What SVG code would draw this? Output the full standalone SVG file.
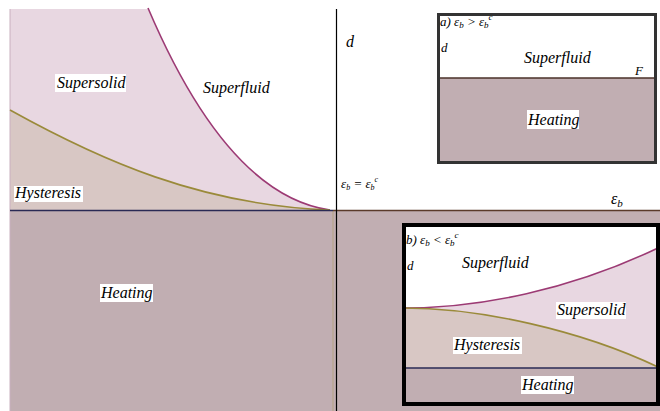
<svg xmlns="http://www.w3.org/2000/svg" width="660" height="411" viewBox="0 0 660 411">
<style>
.lbl{font-size:16px}
.sm{font-size:13px}
.bg{fill:#fff}
.ss{fill:#e8d7e1}
.hy{fill:#d8c7c4}
.ht{fill:#c1aeb2}
.mag{fill:none;stroke:#9c3a74;stroke-width:1.6}
.oli{fill:none;stroke:#9a8a3a;stroke-width:1.6}
.nav{stroke:#2a2a55;stroke-width:1.5}
</style>
<rect width="660" height="411" fill="#fff"/>
<g id="main">
  <path class="ss" d="M10,9 L148,9 C200,130 260,200 330,210 L10,210 Z"/>
  <path class="hy" d="M10,110 C100,160 200,205 330,210 L10,210 Z"/>
  <rect class="ht" x="10" y="210.5" width="650" height="200.5"/>
  <line x1="10" y1="9" x2="10" y2="411" stroke="#c9b0bf" stroke-width="1"/>
  <line x1="333" y1="211" x2="333" y2="411" stroke="#b5a383" stroke-width="1"/>
</g>
<g id="connectors">
  <path class="mag" d="M148,8 C200,130 260,200 330,210"/>
  <path class="oli" d="M10,110 C100,160 200,205 330,210"/>
  <line class="nav" x1="10" y1="210.5" x2="333" y2="210.5"/>
  <line x1="333" y1="210.5" x2="660" y2="210.5" stroke="#5a3a2a" stroke-width="1.5"/>
  <line x1="336.5" y1="9" x2="336.5" y2="411" stroke="#000" stroke-width="1.2"/>
</g>
<g id="main-labels" font-family="Liberation Serif, Times New Roman, serif" font-style="italic">
  <rect class="bg" x="55" y="74" width="71" height="18"/>
  <text class="lbl" x="57" y="88">Supersolid</text>
  <text class="lbl" x="203" y="93">Superfluid</text>
  <rect class="bg" x="14" y="186" width="69" height="16"/>
  <text class="lbl" x="15" y="198">Hysteresis</text>
  <rect class="bg" x="100" y="284" width="53" height="18"/>
  <text class="lbl" x="101" y="298">Heating</text>
  <text class="lbl" x="346" y="47">d</text>
  <text class="sm" x="341" y="188">ε<tspan font-size="8" dy="2">b</tspan><tspan dy="-2"> = </tspan>ε<tspan font-size="8" dy="2">b</tspan><tspan font-size="8" dy="-8">c</tspan></text>
  <text class="lbl" x="611" y="204">ε<tspan font-size="11" dy="3">b</tspan></text>
</g>
<g id="inset-a" font-family="Liberation Serif, Times New Roman, serif" font-style="italic">
  <rect x="438.5" y="14.5" width="217" height="63.5" fill="#fff"/>
  <rect class="ht" x="438.5" y="78" width="217" height="84.5"/>
  <line x1="438.5" y1="78" x2="655.5" y2="78" stroke="#4a3028" stroke-width="1.5"/>
  <rect x="438.5" y="14.5" width="217" height="148" fill="none" stroke="#333" stroke-width="3"/>
  <text class="sm" x="440" y="26">a) ε<tspan font-size="9" dy="2">b</tspan><tspan dy="-2"> &gt; </tspan>ε<tspan font-size="9" dy="2">b</tspan><tspan font-size="9" dy="-8">c</tspan></text>
  <text class="sm" x="441" y="52">d</text>
  <text class="lbl" x="524" y="63">Superfluid</text>
  <text class="sm" x="635" y="75">F</text>
  <rect class="bg" x="527" y="110" width="52" height="19"/>
  <text class="lbl" x="528" y="125">Heating</text>
</g>
<g id="inset-b" font-family="Liberation Serif, Times New Roman, serif" font-style="italic">
  <rect x="404" y="225" width="254" height="179" fill="#fff"/>
  <path class="ss" d="M404,308 C480,308 570,290 658,248 L658,367 C580,330 480,308 404,308 Z"/>
  <path class="hy" d="M404,308 C480,308 580,330 658,367 L658,368 L404,368 Z"/>
  <rect class="ht" x="404" y="368" width="254" height="36"/>
  <path class="mag" d="M404,308 C480,308 570,290 658,248"/>
  <path class="oli" d="M404,308 C480,308 580,330 658,367"/>
  <line class="nav" x1="404" y1="368" x2="658" y2="368"/>
  <rect x="404" y="225" width="254" height="179" fill="none" stroke="#000" stroke-width="4"/>
  <text class="sm" x="406" y="244">b) ε<tspan font-size="9" dy="2">b</tspan><tspan dy="-2"> &lt; </tspan>ε<tspan font-size="9" dy="2">b</tspan><tspan font-size="9" dy="-8">c</tspan></text>
  <text class="sm" x="407" y="270">d</text>
  <text class="lbl" x="462" y="268">Superfluid</text>
  <rect class="bg" x="556" y="302" width="70" height="17"/>
  <text class="lbl" x="557" y="315">Supersolid</text>
  <rect class="bg" x="453" y="337" width="69" height="17"/>
  <text class="lbl" x="454" y="350">Hysteresis</text>
  <rect class="bg" x="521" y="376" width="53" height="18"/>
  <text class="lbl" x="522" y="390">Heating</text>
</g>
</svg>
